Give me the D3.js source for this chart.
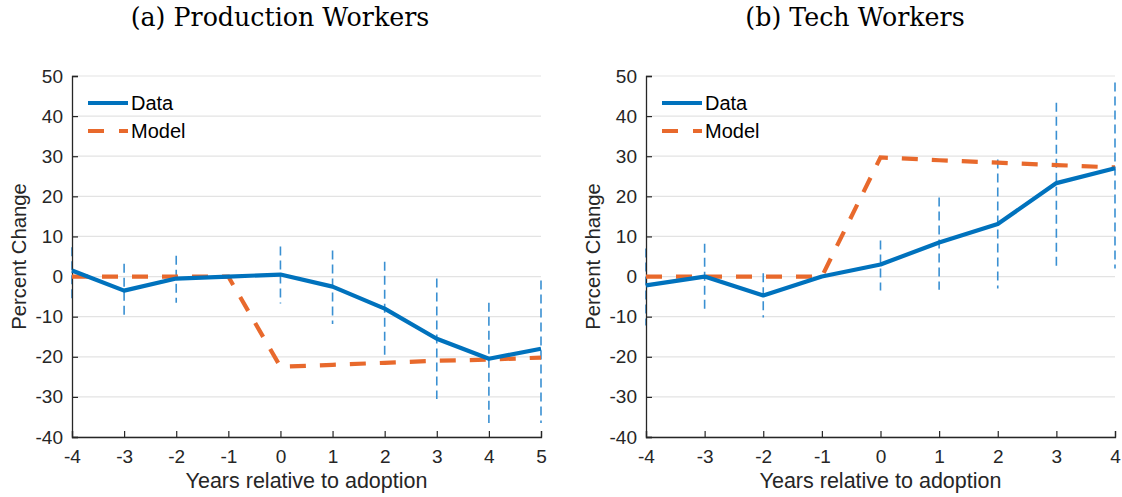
<!DOCTYPE html>
<html>
<head>
<meta charset="utf-8">
<script src="https://cdn.jsdelivr.net/npm/d3@7"></script>
<style>
  body { margin: 0; background: #fff; }
  svg { display: block; }
</style>
</head>
<body>
<div id="chart"></div>
<script>
// Production workers
const prodYears = [-4, -3, -2, -1, 0, 1, 2, 3, 4, 5];
const prodData = [1.5, -3.5, -0.5, 0, 0.5, -2.5, -8, -15.5, -20.5, -18];
const prodModel = [0, 0, 0, 0, -22.5, -22, -21.5, -21, -20.7, -20.2];
const prodLow = [-6.5, -10, -6.5, null, -6.7, -11.8, -20.2, -30.5, -36.5, -36.5];
const prodHigh = [7.3, 3.2, 5.2, null, 7.5, 6.5, 3.7, -0.5, -6.5, -1];

// Tech workers
const techYears = [-4, -3, -2, -1, 0, 1, 2, 3, 4];
const techData = [-2.2, 0, -4.7, 0, 3, 8.5, 13.1, 23.3, 27];
const techModel = [0, 0, 0, 0, 29.7, 29, 28.4, 27.8, 27.2];
const techLow = [-12.2, -8.2, -10.2, null, -3.5, -3.3, -3, 2.5, 2];
const techHigh = [7, 8.2, 0.8, null, 9, 19.7, 29.2, 43.3, 48.4];

const yTicks = [-40, -30, -20, -10, 0, 10, 20, 30, 40, 50];

const width = 1122;
const height = 497;
const sans = 'Liberation Sans, Arial, sans-serif';

const svg = d3.select('#chart')
    .append('svg')
    .attr('width', width)
    .attr('height', height);

function drawPanel(opts) {
    const { left, right, title, titleX, years, data, model, low, high } = opts;
    const top = 76, bottom = 437;

    const x = d3.scaleLinear().domain(d3.extent(years)).range([left, right]);
    const y = d3.scaleLinear().domain([-40, 50]).range([bottom, top]);

    const g = svg.append('g');

    // gridlines
    g.append('g')
        .selectAll('line')
        .data(yTicks)
        .join('line')
        .attr('x1', left)
        .attr('x2', right)
        .attr('y1', (d) => y(d))
        .attr('y2', (d) => y(d))
        .attr('stroke', '#e3e3e3')
        .attr('stroke-width', 1.2);

    // error bars
    const bars = years.map((yr, i) => ({ yr, lo: low[i], hi: high[i] }))
        .filter((d) => d.lo !== null);
    g.append('g')
        .selectAll('line')
        .data(bars)
        .join('line')
        .attr('x1', (d) => x(d.yr))
        .attr('x2', (d) => x(d.yr))
        .attr('y1', (d) => y(d.hi))
        .attr('y2', (d) => y(d.lo))
        .attr('stroke', '#3a90d2')
        .attr('stroke-width', 1.6)
        .attr('stroke-dasharray', '9,5');

    // axes
    const fmt = (d) => String(d);
    const yAxis = d3.axisLeft(y).tickValues(yTicks).tickFormat(fmt).tickSize(-6).tickPadding(9);
    const xAxis = d3.axisBottom(x).tickValues(years).tickFormat(fmt).tickSize(-6).tickPadding(9);

    const ya = g.append('g')
        .attr('transform', `translate(${left},0)`)
        .call(yAxis);
    const xa = g.append('g')
        .attr('transform', `translate(0,${bottom})`)
        .call(xAxis);
    [ya, xa].forEach((a) => {
        a.select('.domain').attr('stroke', '#262626').attr('stroke-width', 1.3);
        a.selectAll('.tick line').attr('stroke', '#262626').attr('stroke-width', 1.2);
        a.selectAll('text')
            .attr('fill', '#262626')
            .style('font-family', sans)
            .style('font-size', '19px');
    });
    xa.selectAll('text').attr('y', 26).attr('dy', 0);

    // lines
    const line = d3.line()
        .x((d) => x(d[0]))
        .y((d) => y(d[1]));

    g.append('path')
        .datum(years.map((yr, i) => [yr, model[i]]))
        .attr('d', line)
        .attr('fill', 'none')
        .attr('stroke', '#e8692c')
        .attr('stroke-width', 4.2)
        .attr('stroke-dasharray', '16,14');

    g.append('path')
        .datum(years.map((yr, i) => [yr, data[i]]))
        .attr('d', line)
        .attr('fill', 'none')
        .attr('stroke', '#0072BD')
        .attr('stroke-width', 4.2)
        .attr('stroke-linejoin', 'round');

    // legend
    const leg = g.append('g');
    const lx = left + 16;
    leg.append('line')
        .attr('x1', lx).attr('x2', lx + 40)
        .attr('y1', 103).attr('y2', 103)
        .attr('stroke', '#0072BD').attr('stroke-width', 4.2);
    leg.append('line')
        .attr('x1', lx).attr('x2', lx + 40)
        .attr('y1', 131).attr('y2', 131)
        .attr('stroke', '#e8692c').attr('stroke-width', 4.2)
        .attr('stroke-dasharray', '16,15');
    leg.selectAll('text')
        .data(['Data', 'Model'])
        .join('text')
        .attr('x', lx + 43)
        .attr('y', (d, i) => 103 + i * 28)
        .attr('dy', '0.35em')
        .attr('fill', '#000')
        .style('font-family', sans)
        .style('font-size', '20px')
        .text((d) => d);

    // labels
    g.append('text')
        .attr('x', (left + right) / 2)
        .attr('y', 488)
        .attr('text-anchor', 'middle')
        .attr('fill', '#262626')
        .style('font-family', sans)
        .style('font-size', '21.5px')
        .text('Years relative to adoption');

    g.append('text')
        .attr('transform', `translate(${left - 46},${(top + bottom) / 2}) rotate(-90)`)
        .attr('text-anchor', 'middle')
        .attr('fill', '#262626')
        .style('font-family', sans)
        .style('font-size', '20.3px')
        .text('Percent Change');

    g.append('text')
        .attr('x', titleX)
        .attr('y', 26)
        .attr('text-anchor', 'middle')
        .attr('fill', '#000')
        .style('font-family', 'DejaVu Serif, Liberation Serif, serif')
        .style('font-size', '25.3px')
        .text(title);
}

drawPanel({
    left: 72, right: 541, title: '(a) Production Workers', titleX: 280,
    years: prodYears, data: prodData, model: prodModel, low: prodLow, high: prodHigh,
});
drawPanel({
    left: 646, right: 1115, title: '(b) Tech Workers', titleX: 855,
    years: techYears, data: techData, model: techModel, low: techLow, high: techHigh,
});
</script>
</body>
</html>
